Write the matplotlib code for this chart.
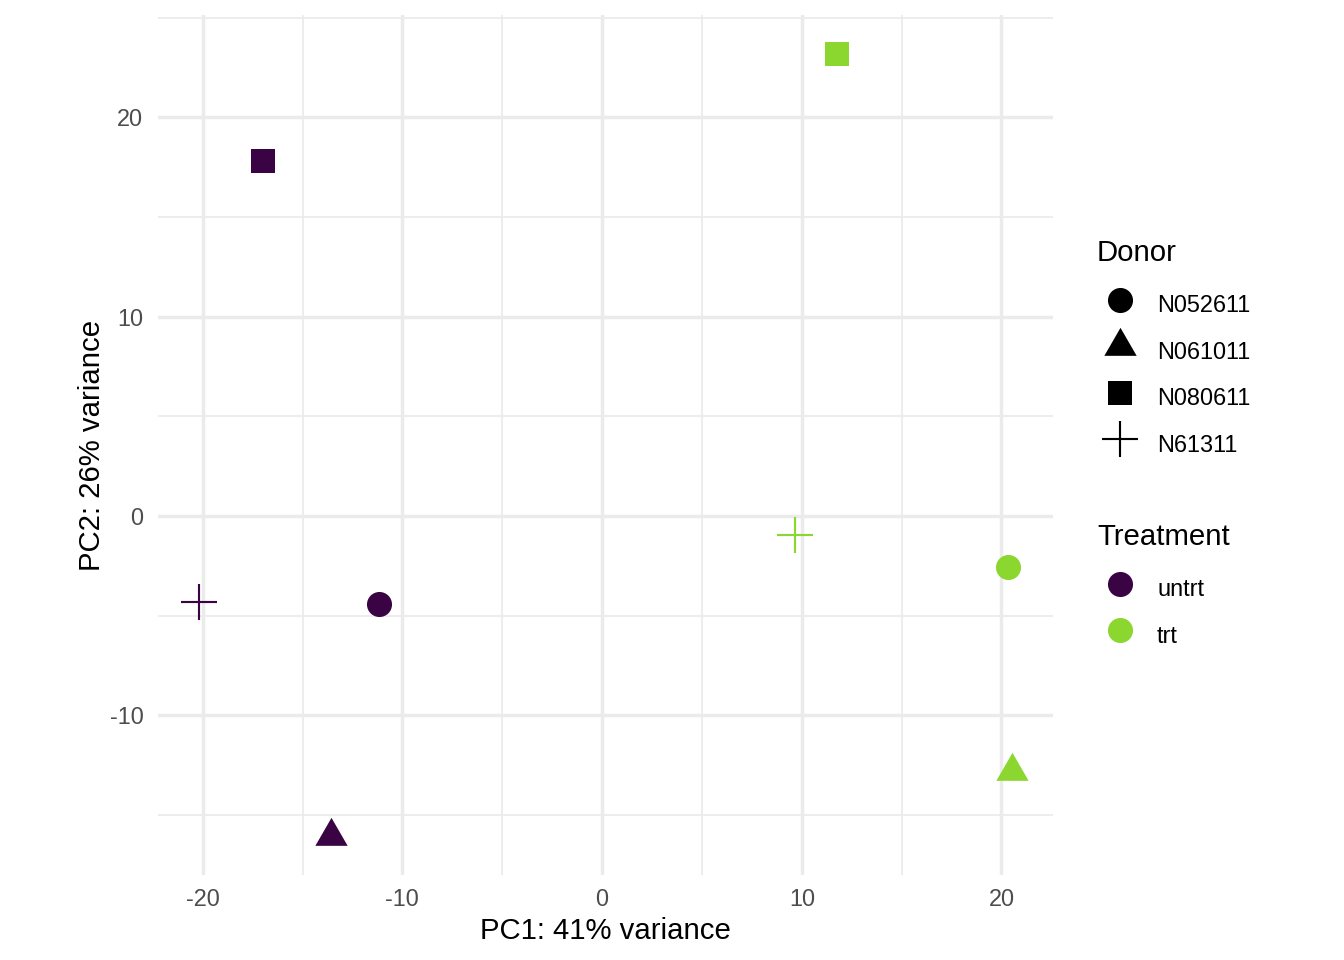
import numpy as np
import matplotlib
matplotlib.use("Agg")
import matplotlib.pyplot as plt
from matplotlib.lines import Line2D
from matplotlib.path import Path

plt.rcParams['font.family'] = ['Liberation Sans', 'DejaVu Sans']
plt.rcParams['axes.unicode_minus'] = False

# PCA sample coordinates (airway samples)
donor = ['N61311', 'N61311', 'N052611', 'N052611',
         'N080611', 'N080611', 'N061011', 'N061011']
treatment = ['untrt', 'trt', 'untrt', 'trt', 'untrt', 'trt', 'untrt', 'trt']
pc1 = [-20.2, 9.64, -11.19, 20.32, -17.0, 11.74, -13.56, 20.52]
pc2 = [-4.34, -0.94, -4.44, -2.57, 17.81, 23.18, -16.06, -12.82]

donor_levels = ['N052611', 'N061011', 'N080611', 'N61311']
treat_levels = ['untrt', 'trt']
treat_colors = {'untrt': '#3A0444', 'trt': '#8CD630'}

# ggplot-like equilateral triangle centred on its centroid
tri = Path([(-0.5, -0.2887), (0.5, -0.2887), (0, 0.5774), (-0.5, -0.2887)],
           [Path.MOVETO, Path.LINETO, Path.LINETO, Path.CLOSEPOLY])
shape = {'N052611': dict(marker='o', ms=9.4, mew=0),
         'N061011': dict(marker=tri, ms=14.0, mew=0),
         'N080611': dict(marker='s', ms=9.0, mew=0),
         'N61311': dict(marker='+', ms=13.5, mew=0.8)}

fig = plt.figure(figsize=(7, 5), dpi=192)
ax = fig.add_axes([158/1344, 1 - 875/960, (1052.5 - 158)/1344, (875 - 15)/960])

for x, y, d, t in zip(pc1, pc2, donor, treatment):
    ax.plot(x, y, linestyle='none', color=treat_colors[t], **shape[d], zorder=3)

ax.margins(0.05)
ax.set_xticks([-20, -10, 0, 10, 20])
ax.set_yticks([-10, 0, 10, 20])
ax.set_xticks([-15, -5, 5, 15], minor=True)
ax.set_yticks([-15, -5, 5, 15, 25], minor=True)
ax.grid(which='major', color='#EBEBEB', linewidth=1.3)
ax.grid(which='minor', color='#EBEBEB', linewidth=0.65)
ax.set_axisbelow(True)
for s in ax.spines.values():
    s.set_visible(False)
ax.tick_params(which='both', length=0, labelsize=8.8, labelcolor='#4D4D4D', pad=5.5)
ax.tick_params(axis='x', pad=5)
ax.set_xlabel('PC1: 41% variance', fontsize=11, labelpad=2)
ax.set_ylabel('PC2: 26% variance', fontsize=11, labelpad=1.25)

# legends
donor_handles = [Line2D([], [], linestyle='none', color='black', **shape[d]) for d in donor_levels]
treat_handles = [Line2D([], [], linestyle='none', color=treat_colors[t], marker='o', ms=9.4, mew=0)
                 for t in treat_levels]
leg_kw = dict(loc='upper left', frameon=False, fontsize=8.8,
              handlelength=1.96, handletextpad=0.6, handleheight=1.96,
              labelspacing=0.46, borderpad=0, borderaxespad=0)
fig.text(1097/1344, 1 - 253/960, 'Donor', fontsize=11, ha='left', va='center')
fig.text(1097/1344, 1 - 537/960, 'Treatment', fontsize=11, ha='left', va='center')
leg1 = fig.legend(donor_handles, donor_levels,
                  bbox_to_anchor=(1097/1344, 1 - 287/960), **leg_kw)
leg2 = fig.legend(treat_handles, treat_levels,
                  bbox_to_anchor=(1097/1344, 1 - 571/960), **leg_kw)

fig.savefig('out.png', dpi=192, facecolor='white')
